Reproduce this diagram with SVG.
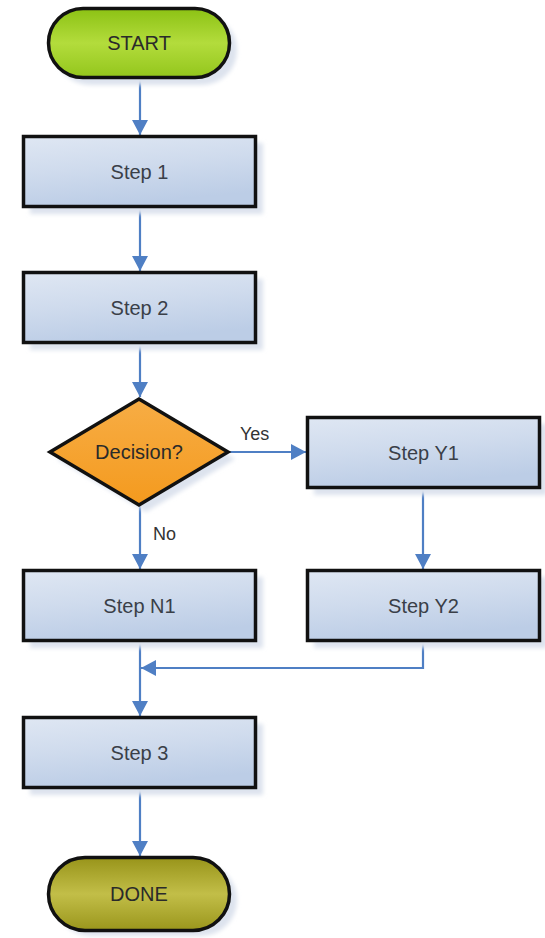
<svg xmlns="http://www.w3.org/2000/svg" width="545" height="938" viewBox="0 0 545 938">
<style>
.box{stroke:#111;stroke-width:3.5;fill:url(#gBox)}
.shadow{fill:#dde3ee}
.lbl{font-family:"Liberation Sans",Arial,sans-serif;font-size:20px;fill:#3a3f48;text-anchor:middle}
.tlbl{font-family:"Liberation Sans",Arial,sans-serif;font-size:20px;fill:#2a2a2a;text-anchor:middle}
.elbl{font-family:"Liberation Sans",Arial,sans-serif;font-size:18px;fill:#333}
.conn{stroke:#4f7fc4;stroke-width:2.2;fill:none;marker-end:url(#arr)}
</style>
<defs>
<linearGradient id="gBox" x1="0" y1="0" x2="0.3" y2="1">
<stop offset="0" stop-color="#dfe7f3"/>
<stop offset="0.5" stop-color="#cfdbed"/>
<stop offset="1" stop-color="#bccde6"/>
</linearGradient>
<linearGradient id="gStart" x1="0" y1="0" x2="0" y2="1">
<stop offset="0" stop-color="#8cc214"/>
<stop offset="0.5" stop-color="#b3dc3c"/>
<stop offset="1" stop-color="#93c61c"/>
</linearGradient>
<linearGradient id="gDone" x1="0" y1="0" x2="0" y2="1">
<stop offset="0" stop-color="#98941a"/>
<stop offset="0.5" stop-color="#c2be48"/>
<stop offset="1" stop-color="#9a961c"/>
</linearGradient>
<linearGradient id="gDec" x1="0" y1="0" x2="0" y2="1">
<stop offset="0" stop-color="#f7ad45"/>
<stop offset="1" stop-color="#f49a1e"/>
</linearGradient>
<filter id="blur" x="-10%" y="-10%" width="120%" height="120%">
<feGaussianBlur stdDeviation="2"/>
</filter>
<marker id="arr" markerUnits="userSpaceOnUse" markerWidth="15" markerHeight="16" refX="15" refY="8" orient="auto">
<path d="M0,0 L15,8 L0,16 z" fill="#4f7fc4"/>
</marker>
</defs>
<rect width="545" height="938" fill="#fff"/>

<g id="connectors">
<line class="conn" x1="140" y1="78" x2="140" y2="135"/>
<line class="conn" x1="140" y1="208" x2="140" y2="271"/>
<line class="conn" x1="140" y1="344" x2="140" y2="397"/>
<line class="conn" x1="229" y1="452" x2="306" y2="452"/>
<line class="conn" x1="140" y1="506" x2="140" y2="569"/>
<line class="conn" x1="423" y1="489" x2="423" y2="569"/>
<polyline class="conn" points="423,641 423,668 141,668"/>
<line class="conn" x1="140" y1="641" x2="140" y2="716"/>
<line class="conn" x1="140" y1="789" x2="140" y2="856"/>
<text class="elbl" x="240" y="440">Yes</text>
<text class="elbl" x="153" y="540">No</text>
</g>

<g id="start">
<rect class="shadow" x="55" y="15" width="182" height="70" rx="35" filter="url(#blur)"/>
<rect x="48.5" y="8.5" width="181" height="69" rx="34.5" fill="url(#gStart)" stroke="#111" stroke-width="3.5"/>
<text class="tlbl" x="139" y="50">START</text>
</g>

<g id="step1">
<rect class="shadow" x="30" y="143" width="233" height="71" filter="url(#blur)"/>
<rect class="box" x="23.5" y="136.5" width="232" height="70"/>
<text class="lbl" x="139.5" y="179">Step 1</text>
</g>

<g id="step2">
<rect class="shadow" x="30" y="279" width="233" height="71" filter="url(#blur)"/>
<rect class="box" x="23.5" y="272.5" width="232" height="70"/>
<text class="lbl" x="139.5" y="315">Step 2</text>
</g>

<g id="decision">
<polygon class="shadow" points="146,405 235,459 146,512 57,459" filter="url(#blur)"/>
<polygon points="139,399 228,452 139,505 50,452" fill="url(#gDec)" stroke="#111" stroke-width="3.5" stroke-linejoin="miter"/>
<text class="tlbl" x="139" y="459">Decision?</text>
</g>

<g id="stepY1">
<rect class="shadow" x="314" y="424" width="233" height="71" filter="url(#blur)"/>
<rect class="box" x="307.5" y="417.5" width="232" height="70"/>
<text class="lbl" x="423.5" y="460">Step Y1</text>
</g>

<g id="stepN1">
<rect class="shadow" x="30" y="577" width="233" height="71" filter="url(#blur)"/>
<rect class="box" x="23.5" y="570.5" width="232" height="70"/>
<text class="lbl" x="139.5" y="613">Step N1</text>
</g>

<g id="stepY2">
<rect class="shadow" x="314" y="577" width="233" height="71" filter="url(#blur)"/>
<rect class="box" x="307.5" y="570.5" width="232" height="70"/>
<text class="lbl" x="423.5" y="613">Step Y2</text>
</g>

<g id="step3">
<rect class="shadow" x="30" y="724" width="233" height="71" filter="url(#blur)"/>
<rect class="box" x="23.5" y="717.5" width="232" height="70"/>
<text class="lbl" x="139.5" y="760">Step 3</text>
</g>

<g id="done">
<rect class="shadow" x="55" y="864" width="182" height="72" rx="36" filter="url(#blur)"/>
<rect x="48.5" y="857.5" width="181" height="73" rx="36.5" fill="url(#gDone)" stroke="#111" stroke-width="3.5"/>
<text class="tlbl" x="139" y="901">DONE</text>
</g>
</svg>
